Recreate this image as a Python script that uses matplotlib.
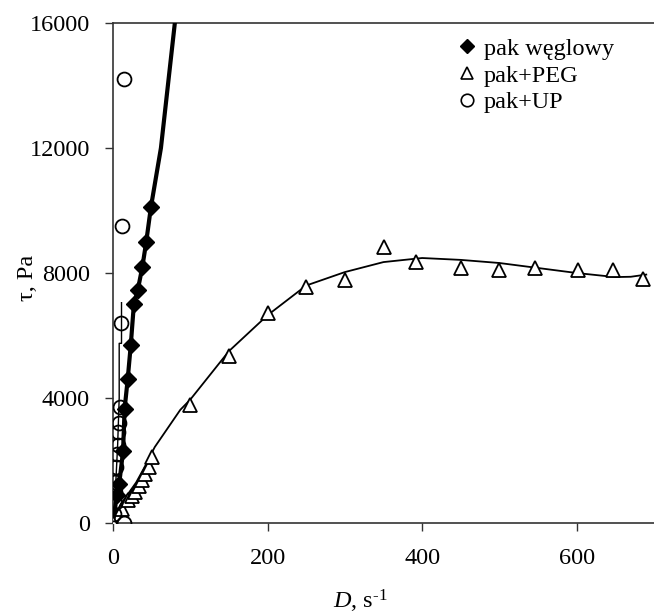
import matplotlib.pyplot as plt
from matplotlib.lines import Line2D

plt.rcParams['font.family'] = ['Liberation Serif', 'DejaVu Serif']
plt.rcParams['mathtext.fontset'] = 'custom'
plt.rcParams['mathtext.rm'] = 'Liberation Serif'
plt.rcParams['mathtext.it'] = 'Liberation Serif:italic'

# pak węglowy - measured points and drawn line
wegl_D = [5, 8, 13, 15, 19, 23, 27, 32, 38, 43, 49]
wegl_tau = [900, 1250, 2300, 3650, 4600, 5700, 7000, 7450, 8200, 9000, 10100]
wegl_line_D = [0, 5, 8, 13, 15, 19, 23, 27, 32, 38, 43, 49, 62, 80, 82]
wegl_line_tau = [0, 900, 1250, 2300, 3650, 4600, 5700, 7000, 7450, 8200, 9000, 10100, 12000, 16000, 16500]

# pak+PEG
peg_D = [0, 12, 19, 24, 29, 34, 38, 42, 46, 51, 100, 150, 200, 250, 300, 350,
         392, 450, 500, 546, 602, 647, 686]
peg_tau = [0, 450, 725, 850, 1000, 1200, 1370, 1580, 1790, 2120, 3780, 5340,
           6720, 7560, 7780, 8830, 8350, 8160, 8100, 8160, 8100, 8100, 7800]
peg_line_D = [0, 10, 20, 30, 40, 54, 87, 100, 150, 200, 250, 300, 350, 400,
              450, 500, 550, 600, 650, 670, 690]
peg_line_tau = [100, 600, 950, 1300, 1750, 2430, 3620, 3950, 5500, 6650, 7600,
                8030, 8350, 8480, 8420, 8320, 8160, 8000, 7870, 7880, 7950]

# pak+UP
up_D = [1, 2, 2.5, 3, 4, 5, 6, 7, 8, 9, 10, 11, 14, 14]
up_tau = [300, 650, 1000, 1300, 1800, 2200, 2500, 2900, 3200, 3700, 6400, 9500, 14200, 0]
up_line_D = [0, 3, 6, 8, 8, 11, 11]
up_line_tau = [0, 1000, 2500, 4000, 5750, 5750, 7050]

fig = plt.figure(figsize=(6.54, 6.14), dpi=100)
ax = fig.add_axes([0.1728, 0.1482, 0.8272, 0.8143])

ax.plot(peg_line_D, peg_line_tau, color='black', lw=1.3, zorder=2)
ax.plot(up_line_D, up_line_tau, color='black', lw=1.0, zorder=2)
ax.plot(wegl_line_D, wegl_line_tau, color='black', lw=3.0, zorder=3)

ax.plot(peg_D, peg_tau, ls='none', marker='^', ms=10, mfc='white',
        mec='black', mew=1.3, zorder=4)
ax.plot(up_D, up_tau, ls='none', marker='o', ms=10, mfc='none',
        mec='black', mew=1.3, zorder=4)
ax.plot(wegl_D, wegl_tau, ls='none', marker='D', ms=8, color='black', zorder=5)

ax.set_xlim(0, 700)
ax.set_ylim(0, 16000)
ax.set_xticks([0, 200, 400, 600])
ax.set_yticks([0, 4000, 8000, 12000, 16000])
ax.tick_params(direction='out', length=6, width=1, labelsize=17.5, color='#333333')
ax.tick_params(axis='x', pad=12)
ax.tick_params(axis='y', pad=10.5)
for s in ['left', 'bottom', 'top']:
    ax.spines[s].set_color('#333333')
    ax.spines[s].set_linewidth(1.2)
ax.spines['right'].set_visible(False)

ax.set_xlabel('$D$, s$^{\\text{-1}}$', fontsize=17.5, va='top')
ax.xaxis.set_label_coords(0.457, -0.13)
ax.set_ylabel('τ, Pa', fontsize=17.5)
ax.yaxis.set_label_coords(-0.139, 0.49)

handles = [
    Line2D([], [], ls='none', marker='D', ms=7, color='black'),
    Line2D([], [], ls='none', marker='^', ms=9, mfc='white', mec='black', mew=1.2),
    Line2D([], [], ls='none', marker='o', ms=9, mfc='none', mec='black', mew=1.2),
]
ax.legend(handles, ['pak węglowy', 'pak+PEG', 'pak+UP'], loc='upper left',
          bbox_to_anchor=(0.614, 0.995), frameon=False, fontsize=17.5,
          borderpad=0, handletextpad=0.3, handlelength=0.8, labelspacing=0.2)

fig.savefig('out.png', dpi=100)
